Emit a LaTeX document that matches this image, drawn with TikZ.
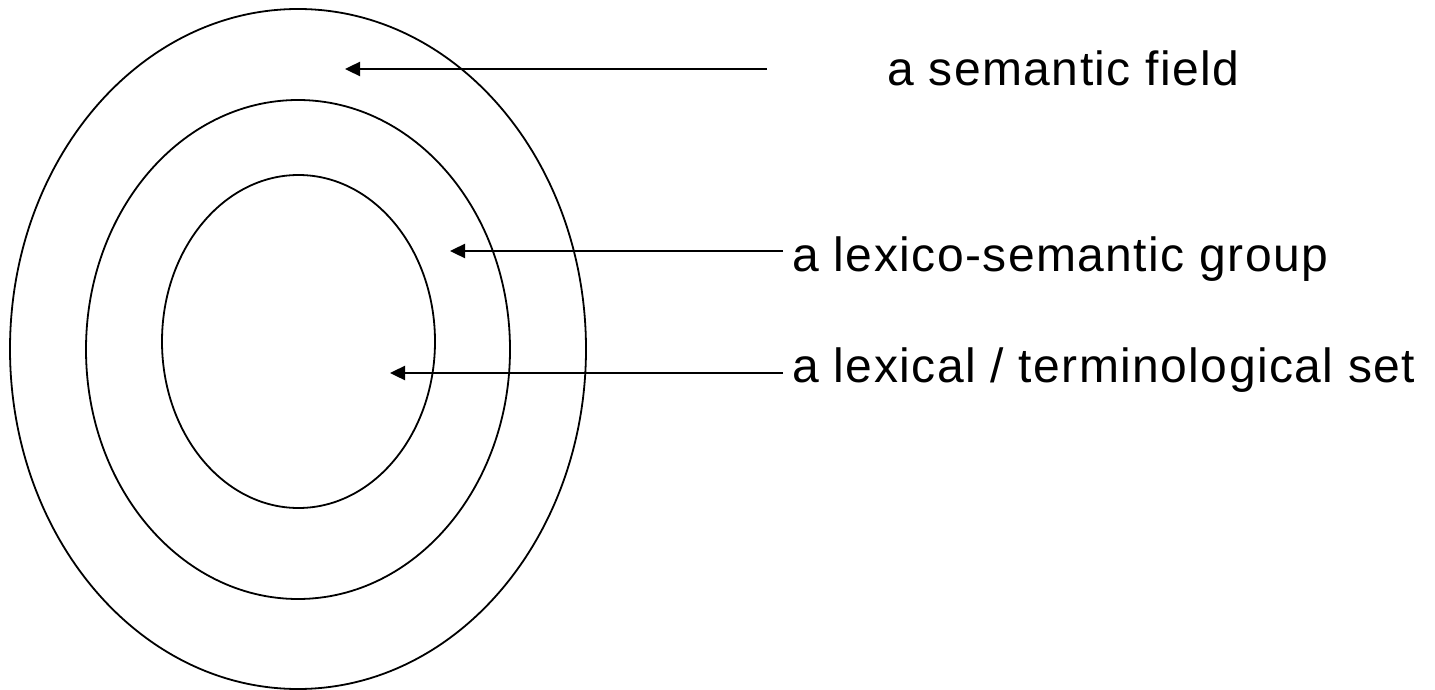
\documentclass[tikz,border=0pt]{standalone}
\usepackage{fontspec}
\newfontfamily\labelfont[LetterSpace=3]{Liberation Sans}
\usetikzlibrary{shapes.geometric,arrows.meta,calc}

\begin{document}
\begin{tikzpicture}[x=0.5pt,y=-0.5pt,
      ring/.style={draw,ellipse,inner sep=0pt,line width=0.9pt},
      lbl/.style={anchor=base west,inner xsep=4.5pt,inner ysep=0pt,font=\labelfont\fontsize{24}{28}\selectfont},
      pointer/.style={-{Triangle[length=7.5pt,width=7pt]},line width=1.2pt}]
    \useasboundingbox (0,0) rectangle (1435,690);
    % nested fields
    \node[ring,minimum width=288pt,minimum height=340pt] (field) at (298,349) {};
    \node[ring,minimum width=212pt,minimum height=249.5pt] (group) at (298,349.5) {};
    \node[ring,minimum width=136.5pt,minimum height=166.5pt] (set) at (298.5,341.5) {};
    % arrow targets
    \coordinate (fieldtip) at (345,69);
    \coordinate (grouptip) at (450,251);
    \coordinate (settip) at (390,373);
    % labels
    \node[lbl] (fieldlbl) at (878,86) {a semantic field};
    \node[lbl] (grouplbl) at (783,271) {a lexico-semantic group};
    \node[lbl] (setlbl) at (783,382) {a lexical / terminological set};
    \draw[pointer] ($(fieldlbl.west |- fieldtip)+(-111,0)$) -- (fieldtip);
    \draw[pointer] (grouplbl.west |- grouptip) -- (grouptip);
    \draw[pointer] (setlbl.west |- settip) -- (settip);
  \end{tikzpicture}
\end{document}
